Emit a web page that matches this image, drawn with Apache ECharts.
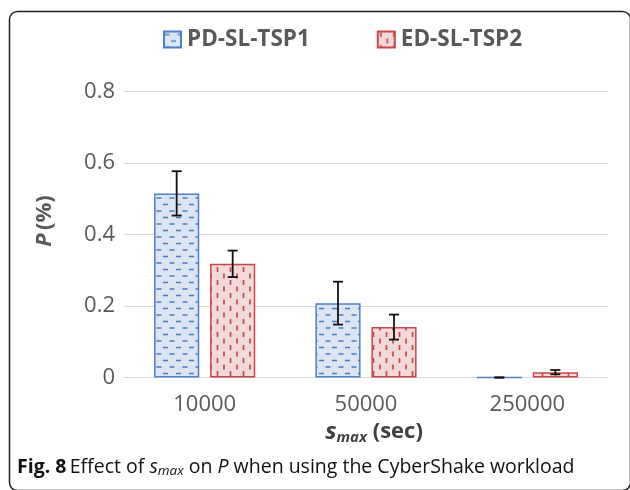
<!DOCTYPE html>
<html><head><meta charset="utf-8">
<script src="https://cdn.jsdelivr.net/npm/echarts@6/dist/echarts.min.js"></script>
<style>html,body{margin:0;padding:0;background:#fff}#c{width:630px;height:490px}</style>
</head><body><div id="c"></div>
<script>
const categories = ['10000', '50000', '250000'];
const pdValues = [0.515, 0.208, 0];
const pdErrors = [0.062, 0.060, 0];
const edValues = [0.318, 0.141, 0.015];
const edErrors = [0.037, 0.035, 0.006];
const seriesNames = ['PD-SL-TSP1', 'ED-SL-TSP2'];
const yTicks = { min: 0, max: 0.8, interval: 0.2 };

function makePattern(kind) {
  const c = document.createElement('canvas');
  c.width = 13; c.height = 13;
  const g = c.getContext('2d');
  if (kind === 'h') {
    g.fillStyle = '#dbe5f3'; g.fillRect(0, 0, 13, 13);
    g.strokeStyle = '#4a7bc2'; g.lineWidth = 1.7;
    g.beginPath();
    g.moveTo(0.5, 3); g.lineTo(5.5, 3);
    g.moveTo(7, 9.5); g.lineTo(12, 9.5);
    g.stroke();
  } else {
    g.fillStyle = '#f3dada'; g.fillRect(0, 0, 13, 13);
    g.strokeStyle = '#c9474b'; g.lineWidth = 1.7;
    g.beginPath();
    g.moveTo(3, 0.5); g.lineTo(3, 5.5);
    g.moveTo(9.5, 7); g.lineTo(9.5, 12);
    g.stroke();
  }
  return { image: c, repeat: 'repeat' };
}

const BAR_W = 0.28, BAR_GAP = 0.24;
function errSeries(vals, errs, sign) {
  return {
    type: 'custom',
    silent: true,
    z: 10,
    data: vals.map((v, i) => [i, v, errs[i]]),
    encode: { x: 0, y: 1 },
    renderItem: function (params, api) {
      const i = api.value(0), v = api.value(1), e = api.value(2);
      const band = api.size([1, 0])[0];
      const bw = band * BAR_W;
      const off = sign * (bw + bw * BAR_GAP) / 2;
      const x = api.coord([i, v])[0] + off;
      const hi = api.coord([i, v + e])[1];
      const lo = api.coord([i, v - e])[1];
      const st = { stroke: '#111', lineWidth: 1.8 };
      return {
        type: 'group',
        children: [
          { type: 'line', shape: { x1: x, y1: hi, x2: x, y2: lo }, style: st },
          { type: 'line', shape: { x1: x - 5, y1: hi, x2: x + 5, y2: hi }, style: st },
          { type: 'line', shape: { x1: x - 5, y1: lo, x2: x + 5, y2: lo }, style: st }
        ]
      };
    }
  };
}

const chart = echarts.init(document.getElementById('c'), null, { renderer: 'canvas' });
const FONT = 'Open Sans';
chart.setOption({
  animation: false,
  textStyle: { fontFamily: FONT },
  legend: {
    data: seriesNames,
    left: 163, top: 28, padding: 0,
    itemWidth: 17, itemHeight: 16, itemGap: 67,
    icon: 'rect',
    textStyle: { fontFamily: FONT, fontSize: 22.5, fontWeight: 'bold', color: '#595959', padding: [0, 0, 0, 1] }
  },
  grid: { left: 124, right: 22, top: 91.5, bottom: 112.5 },
  xAxis: {
    type: 'category',
    data: categories,
    axisLine: { lineStyle: { color: '#d9d9d9', width: 1 } },
    axisTick: { show: false },
    axisLabel: { fontFamily: FONT, fontSize: 22, color: '#595959', margin: 16 }
  },
  yAxis: {
    type: 'value',
    min: yTicks.min, max: yTicks.max, interval: yTicks.interval,
    axisLine: { show: false },
    axisTick: { show: false },
    splitLine: { lineStyle: { color: '#d9d9d9', width: 1 } },
    axisLabel: { fontFamily: FONT, fontSize: 22, color: '#595959', margin: 9 }
  },
  series: [
    {
      name: seriesNames[0], type: 'bar', data: pdValues,
      barWidth: (BAR_W * 100) + '%', barGap: (BAR_GAP * 100) + '%',
      itemStyle: { color: makePattern('h'), borderColor: '#4f7fc4', borderWidth: 1.5 }
    },
    {
      name: seriesNames[1], type: 'bar', data: edValues,
      barWidth: (BAR_W * 100) + '%',
      itemStyle: { color: makePattern('v'), borderColor: '#c8474a', borderWidth: 1.5 }
    },
    errSeries(pdValues, pdErrors, -1),
    errSeries(edValues, edErrors, 1)
  ],
  graphic: [
    {
      type: 'rect', silent: true,
      shape: { x: 9.5, y: 11.5, width: 621, height: 479, r: 8 },
      style: { fill: 'none', stroke: '#222', lineWidth: 1.5 }
    },
    {
      type: 'text', x: 45, y: 221, rotation: Math.PI / 2,
      style: {
        text: '{i|P} {b|(%)}',
        align: 'center', verticalAlign: 'middle',
        rich: {
          i: { fontFamily: FONT, fontSize: 22, fontWeight: 'bold', fontStyle: 'italic', fill: '#595959' },
          b: { fontFamily: FONT, fontSize: 22, fontWeight: 'bold', fill: '#595959' }
        }
      }
    },
    {
      type: 'text', x: 374, y: 432,
      style: {
        text: '{s|s}{m|max}{b| (sec)}',
        align: 'center', verticalAlign: 'middle',
        rich: {
          s: { fontFamily: FONT, fontSize: 24, fontWeight: 'bold', fontStyle: 'italic', fill: '#404040' },
          m: { fontFamily: FONT, fontSize: 15, fontWeight: 'bold', fontStyle: 'italic', fill: '#404040', padding: [12, 0, 0, 0] },
          b: { fontFamily: FONT, fontSize: 22, fontWeight: 'bold', fill: '#404040' }
        }
      }
    },
    {
      type: 'text', x: 17, y: 467,
      style: {
        text: '{b|Fig. 8} {r|Effect of }{i|s}{sub|max}{r| on }{i|P}{r| when using the CyberShake workload}',
        align: 'left', verticalAlign: 'middle',
        rich: {
          b: { fontFamily: FONT, fontSize: 19.5, fontWeight: 'bold', fill: '#111' },
          r: { fontFamily: FONT, fontSize: 19.5, fill: '#111' },
          i: { fontFamily: FONT, fontSize: 19.5, fontStyle: 'italic', fill: '#111' },
          sub: { fontFamily: FONT, fontSize: 13.5, fontStyle: 'italic', fill: '#111', padding: [8, 0, 0, 0] }
        }
      }
    }
  ]
});
</script></body></html>
